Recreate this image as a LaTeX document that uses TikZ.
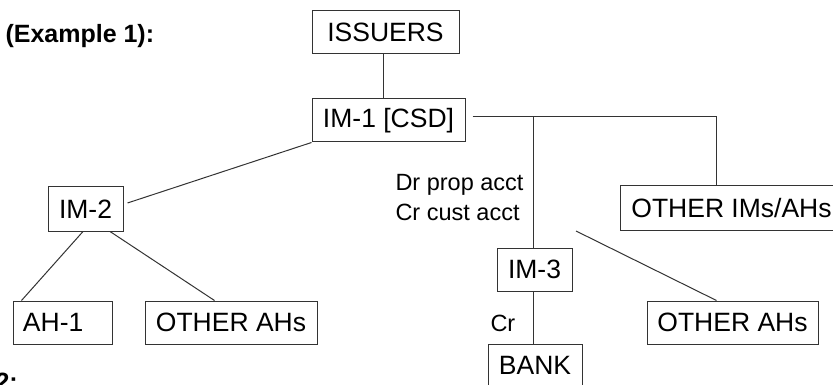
\documentclass[tikz,border=0pt]{standalone}
\usepackage{fontspec}
\setmainfont{Liberation Sans}
\begin{document}
\begin{tikzpicture}[x=1pt,y=-1pt,
  line width=1pt,
  lc/.style={draw=black!80},
  box/.style={draw=black!80, line width=1pt, inner sep=0pt, minimum height=43pt,
    font=\fontsize{26.5}{30}\selectfont},
  lbl/.style={inner sep=0pt, font=\fontsize{23.5}{28}\selectfont},
  ttl/.style={inner sep=0pt, font=\fontsize{25}{29}\selectfont\bfseries}]
\useasboundingbox (0,0) rectangle (833,385);
\clip (0,0) rectangle (833,385);
% nodes
\node[box, minimum width=147pt] (iss) at (385.5,32.5) {ISSUERS};
\node[box, minimum width=153pt] (im1) at (388.5,120.5) {IM-1 [CSD]};
\node[box, minimum width=75pt, minimum height=44pt] (im2) at (85.5,209) {IM-2};
\node[box, minimum width=223pt, minimum height=44pt] (oim) at (731.5,208) {OTHER IMs/AHs};
\node[box, minimum width=75pt] (im3) at (534.5,269.5) {IM-3};
\node[box, minimum width=99pt] (ah1) at (62.5,322.5) {\makebox[79pt][l]{AH-1}};
\node[box, minimum width=172pt] (oah1) at (231,322.5) {OTHER AHs};
\node[box, minimum width=171pt] (oah2) at (732.5,322.5) {OTHER AHs};
\node[box, minimum width=94pt] (bank) at (535,365.5) {BANK};
% labels
\node[ttl, anchor=base west] (t1) at (5,43) {(Example 1):};
\node[ttl, anchor=base west] (t2) at (-5,390) {2:};
\node[lbl, anchor=base west] (dr) at (395,190) {Dr prop acct};
\node[lbl, anchor=base west] (cr) at (395,220) {Cr cust acct};
\node[lbl, anchor=base west] (crb) at (490,331) {Cr};
% junctions
\coordinate (s1) at ([xshift=7pt,yshift=3.5pt]im1.east);
\coordinate (j2) at (533,117);
\coordinate (j1) at (716,117);
\coordinate (free) at (576,231);
% connectors
\draw[lc] (iss.south -| 383,0) -- (im1.north -| 383,0);
\draw[lc] (s1) -- (j1) -- (j1 |- oim.north);
\draw[lc] (j2) -- (j2 |- im3.north);
\draw[lc] (im3.south -| j2) -- (bank.north -| j2);
\draw[lc] (im1.south west) -- ([xshift=4pt,yshift=6pt]im2.east);
\draw[lc] ([xshift=-2.5pt]im2.south) -- ([xshift=9pt]ah1.north west);
\draw[lc] ([xshift=24.5pt]im2.south) -- ([xshift=70pt]oah1.north west);
\draw[lc] (free) -- ([xshift=70pt]oah2.north west);
\end{tikzpicture}
\end{document}
